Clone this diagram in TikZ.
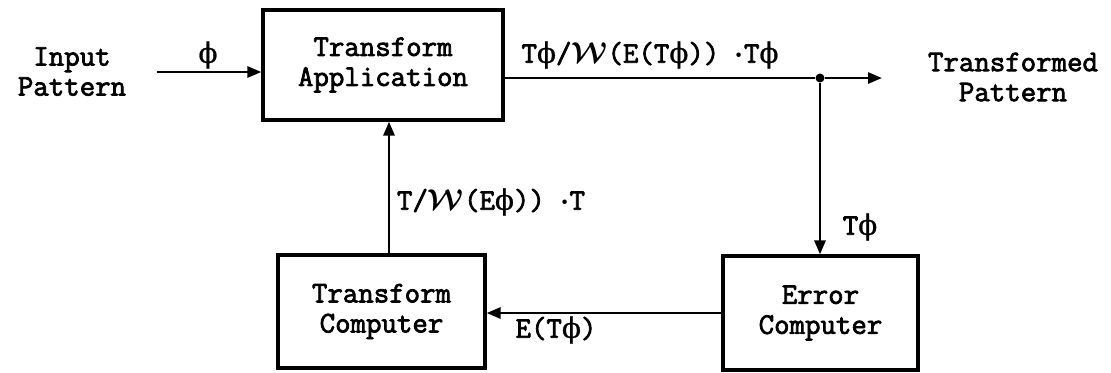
\documentclass[tikz,border=0pt]{standalone}
\usepackage{fontspec}
\newfontfamily\tw{Latin Modern Mono}[FakeBold=2.5]
\newfontfamily\phifont{DejaVu Serif}[FakeBold=0.8]
\newcommand{\ph}{{\phifont\fontsize{14}{15}\selectfont ϕ}}
\newcommand{\scrW}{{\mathversion{bold}$\mathcal{W}$}}
\newcommand{\mdot}{{\mathversion{bold}$\cdot$}}
\usetikzlibrary{arrows.meta}
\begin{document}
\begin{tikzpicture}[x=0.5pt,y=-0.5pt,
  every node/.style={font=\tw\fontsize{15}{15}\selectfont},
  block/.style={draw, line width=1.6pt, align=center, inner sep=0pt,
    minimum width=#1},
  wire/.style={line width=1.4pt},
  arr/.style={wire, -{Triangle[length=7pt,width=5.5pt]}},
  txt/.style={align=center, inner sep=0pt},
  lbl/.style={inner sep=0pt}]
  \useasboundingbox (0,0) rectangle (1111,372);

  % blocks
  \node[block=120pt, minimum height=55pt] (TA) at (383,65) {Transform\\Application};
  \node[block=103.5pt, minimum height=56.5pt] (TC) at (381.5,311.5) {Transform\\Computer};
  \node[block=97.5pt, minimum height=57pt] (EC) at (820.5,313) {Error\\Computer};

  % outer texts
  \node[txt] (inp) at (72,71.5) {Input\\Pattern};
  \node[txt] (outp) at (1013,77) {Transformed\\Pattern};

  % input
  \coordinate (in) at (157,72);
  \draw[arr] (in) -- (in -| TA.west);
  \node[lbl] (phi) at (208,55) {\ph};

  % output with branch point
  \node[circle, fill, inner sep=0pt, minimum size=4.5pt] (J) at (820,78) {};
  \coordinate (out) at (882,78);
  \draw[wire] (TA.east |- J) -- (J);
  \draw[arr] (J) -- (out);
  \node[lbl] (lout) at (650,55) {T\ph/\scrW(E(T\ph)) \mdot T\ph};

  % feedback loop
  \draw[arr] (J) -- (J |- EC.north);
  \node[lbl] (lt) at (860,227) {T\ph};
  \draw[arr] (EC.west) -- (EC.west -| TC.east);
  \node[lbl] (le) at (556,330) {E(T\ph)};
  \draw[arr] ([xshift=3.75pt]TC.north) -- ([xshift=3.75pt]TC.north |- TA.south);
  \node[lbl] (lw) at (491,202) {T/\scrW(E\ph)) \mdot T};
\end{tikzpicture}
\end{document}
